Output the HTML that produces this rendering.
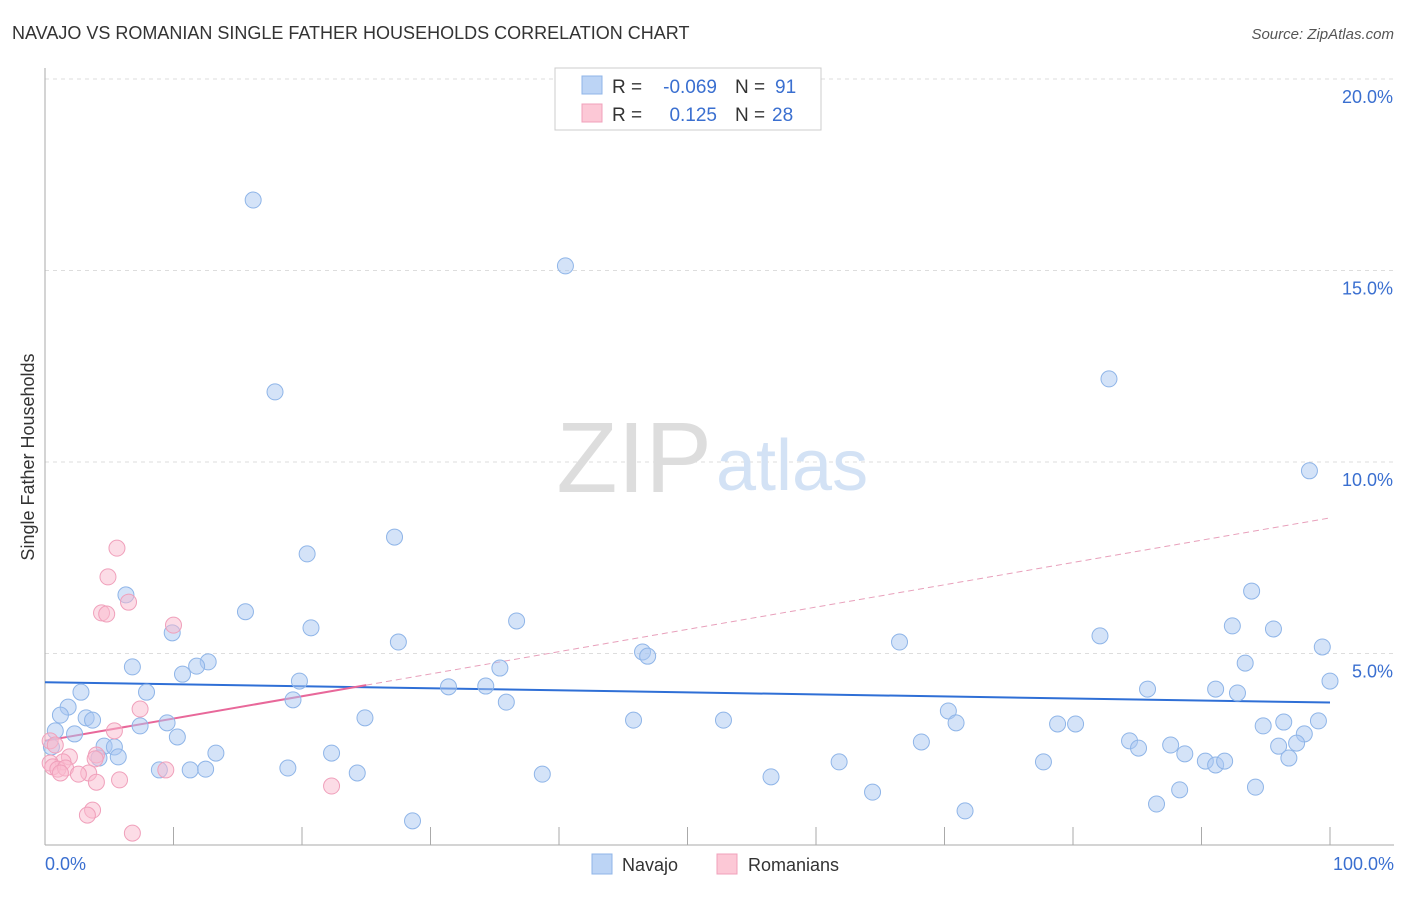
<!DOCTYPE html>
<html><head><meta charset="utf-8"><style>
body{margin:0;background:#fff;font-family:"Liberation Sans",sans-serif}
svg text{font-family:"Liberation Sans",sans-serif}
</style></head><body>
<svg id="c" width="1406" height="892" viewBox="0 0 1406 892">
<text x="12" y="39" font-size="18" fill="#333">NAVAJO VS ROMANIAN SINGLE FATHER HOUSEHOLDS CORRELATION CHART</text>
<text x="1394" y="39" font-size="15" fill="#555" font-style="italic" text-anchor="end">Source: ZipAtlas.com</text>
<text x="34" y="457" font-size="18" fill="#333" transform="rotate(-90 34 457)" text-anchor="middle">Single Father Households</text>
<g id="grid"></g>
<g id="axes"></g>
<text x="712" y="492" font-size="100" fill="#ddd" text-anchor="end" font-family="Liberation Serif">ZIP</text>
<text x="716" y="490" font-size="72" fill="#d3e2f5">atlas</text>
<g id="trend"></g>
<g id="pts"></g>
<g>
<rect x="555" y="68" width="266" height="62" fill="#fff" stroke="#ccc"/>
<rect x="582" y="76" width="20" height="18" fill="#bcd4f5" stroke="#8fb5e8"/>
<rect x="582" y="104" width="20" height="18" fill="#fcc8d6" stroke="#f0a0bb"/>
<text x="612" y="93" font-size="19" fill="#333">R =</text>
<text x="717" y="93" font-size="19" fill="#3a6fd0" text-anchor="end">-0.069</text>
<text x="735" y="93" font-size="19" fill="#333">N =</text>
<text x="775" y="93" font-size="19" fill="#3a6fd0">91</text>
<text x="612" y="121" font-size="19" fill="#333">R =</text>
<text x="717" y="121" font-size="19" fill="#3a6fd0" text-anchor="end">0.125</text>
<text x="735" y="121" font-size="19" fill="#333">N =</text>
<text x="772" y="121" font-size="19" fill="#3a6fd0">28</text>
</g>
<g>
<rect x="592" y="854" width="20" height="20" fill="#bcd4f5" stroke="#8fb5e8"/>
<text x="622" y="871" font-size="18" fill="#333">Navajo</text>
<rect x="717" y="854" width="20" height="20" fill="#fcc8d6" stroke="#f0a0bb"/>
<text x="748" y="871" font-size="18" fill="#333">Romanians</text>
</g>
</svg>
<script>
const yTicks=[5,10,15,20];
const yTickLabels=["5.0%","10.0%","15.0%","20.0%"];
const xEndLabels=["0.0%","100.0%"];
const navX=[16.2,40.5,17.9,82.8,98.4,27.2,20.4,6.3,15.6,36.7,20.7,9.9,27.5,66.5,82.1,92.4,95.6,93.9,46.5,46.9,6.8,12.7,11.8,10.7,35.4,93.4,99.4,100,19.8,31.4,34.3,2.8,7.9,85.8,91.1,92.8,19.3,35.9,1.8,1.2,3.2,3.7,24.9,45.8,52.8,70.3,70.9,78.8,80.2,94.8,96.4,99.1,7.4,9.5,0.8,2.3,10.3,98.0,68.2,84.4,85.1,87.6,96.0,97.4,0.5,4.6,5.4,13.3,22.3,4.2,5.7,88.7,90.3,91.1,91.8,96.8,61.8,77.7,8.9,11.3,12.5,18.9,24.3,38.7,56.5,88.3,64.4,94.2,86.5,71.6,28.6];
const navY=[16.84,15.12,11.83,12.17,9.77,8.04,7.60,6.53,6.09,5.85,5.67,5.54,5.30,5.30,5.46,5.72,5.64,6.63,5.04,4.93,4.65,4.78,4.67,4.46,4.62,4.75,5.17,4.28,4.28,4.13,4.15,3.99,3.99,4.07,4.07,3.97,3.79,3.73,3.60,3.39,3.32,3.26,3.32,3.26,3.26,3.50,3.19,3.16,3.16,3.11,3.21,3.24,3.11,3.19,2.98,2.90,2.82,2.90,2.69,2.72,2.53,2.61,2.58,2.66,2.56,2.58,2.56,2.40,2.40,2.27,2.30,2.38,2.19,2.09,2.19,2.27,2.17,2.17,1.96,1.96,1.98,2.01,1.88,1.85,1.78,1.44,1.38,1.51,1.07,0.89,0.63];
const romX=[5.6,4.9,6.5,4.4,4.8,10.0,7.4,5.4,0.4,0.8,4.0,1.9,3.9,1.4,0.4,0.6,1.0,1.6,3.4,2.6,1.2,9.4,5.8,4.0,22.3,3.7,3.3,6.8];
const romY=[7.75,7.00,6.34,6.06,6.03,5.74,3.55,2.98,2.72,2.61,2.35,2.30,2.25,2.17,2.14,2.04,1.98,2.01,1.88,1.85,1.88,1.96,1.70,1.64,1.54,0.91,0.78,0.31];
const navTrend=[4.25,3.72];
const romTrend=[2.72,8.54];
const romSolidEnd=25;
const X=v=>45+v*12.85, Y=v=>845-v*38.3;
const NS="http://www.w3.org/2000/svg";
function mk(tag,attrs,parent){const e=document.createElementNS(NS,tag);for(const k in attrs)e.setAttribute(k,attrs[k]);document.getElementById(parent).appendChild(e);return e;}
yTicks.forEach((t,i)=>{
 const l=mk('line',{x1:45,x2:1394,y1:Y(t),y2:Y(t),stroke:'#ddd','stroke-dasharray':'4,4'},'grid');
 
 
 const tx=mk('text',{x:1393,y:Y(t)+24,'font-size':18,fill:'#3a6fd0','text-anchor':'end'},'grid');
 tx.textContent=yTickLabels[i];
 
 
});
const ax=mk('line',{x1:45,x2:45,y1:68,y2:845,stroke:'#aaa'},'axes');


const bx=mk('line',{x1:45,x2:1394,y1:845,y2:845,stroke:'#aaa'},'axes');


for(let i=1;i<=10;i++){
 const t=mk('line',{x1:X(i*10),x2:X(i*10),y1:827,y2:845,stroke:'#aaa'},'axes');
 
 
}
[[0,'start',45],[100,'end',1394]].forEach((d,i)=>{
 const t=mk('text',{x:d[2],y:870,'font-size':18,fill:'#3a6fd0','text-anchor':d[1]},'axes');
 t.textContent=xEndLabels[i];
 
 
});
navX.forEach((x,i)=>{
 const c=mk('circle',{cx:X(x),cy:Y(navY[i]),r:8,fill:'rgba(170,200,242,0.5)',stroke:'#8fb5e8','stroke-width':1},'pts');
 
 
});
romX.forEach((x,i)=>{
 const c=mk('circle',{cx:X(x),cy:Y(romY[i]),r:8,fill:'rgba(250,185,205,0.5)',stroke:'#f0a0bb','stroke-width':1},'pts');
 
 
});
const rv=x=>romTrend[0]+(romTrend[1]-romTrend[0])*x/100;
const l1=mk('line',{x1:X(0),y1:Y(navTrend[0]),x2:X(100),y2:Y(navTrend[1]),stroke:'#2f6fd6','stroke-width':2},'trend');


const l2=mk('line',{x1:X(0),y1:Y(rv(0)),x2:X(romSolidEnd),y2:Y(rv(romSolidEnd)),stroke:'#e8689a','stroke-width':2},'trend');


const l3=mk('line',{x1:X(romSolidEnd),y1:Y(rv(romSolidEnd)),x2:X(100),y2:Y(rv(100)),stroke:'#e8a0bb','stroke-width':1,'stroke-dasharray':'6,4'},'trend');


</script>
</body></html>
